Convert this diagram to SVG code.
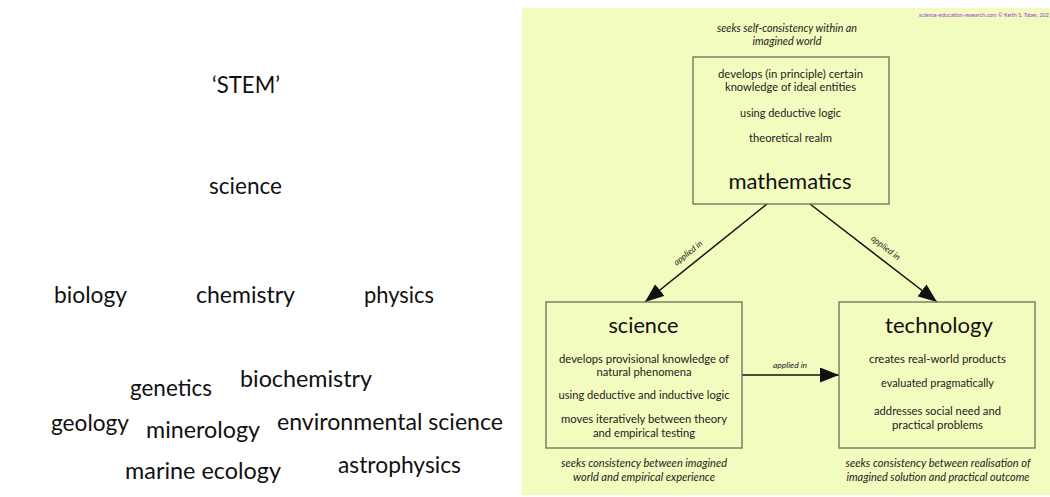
<svg xmlns="http://www.w3.org/2000/svg" width="1050" height="497" viewBox="0 0 1050 497">
<defs>
<style>
.w{font-family:Lato,"Open Sans","Liberation Sans",sans-serif;font-size:23px;fill:#111}
.t{font-family:Lato,"Open Sans","Liberation Sans",sans-serif;font-size:10.5px;fill:#222;text-anchor:middle}
.h{font-family:Lato,"Open Sans","Liberation Sans",sans-serif;font-size:22px;fill:#111;text-anchor:middle}
.i{font-family:Lato,"Open Sans","Liberation Sans",sans-serif;font-size:10.5px;font-style:italic;fill:#222;text-anchor:middle}
.a{font-family:Lato,"Open Sans","Liberation Sans",sans-serif;font-size:8.5px;font-style:italic;fill:#222;text-anchor:middle}
.box{fill:none;stroke:#6e6e5c;stroke-width:1.3}
.con{stroke:#111;stroke-width:1.5;fill:none}
</style>
<marker id="ah" markerUnits="userSpaceOnUse" markerWidth="20" markerHeight="16" refX="19" refY="7.5" orient="auto">
<path d="M0,0 L19,7.5 L0,15 Z" fill="#111"/>
</marker>
</defs>
<rect width="1050" height="497" fill="#ffffff"/>
<g id="stem-list">
<text class="w" x="212" y="93" textLength="68" lengthAdjust="spacingAndGlyphs">‘STEM’</text>
<text class="w" x="209" y="194" textLength="73" lengthAdjust="spacingAndGlyphs">science</text>
<text class="w" x="54" y="303" textLength="73" lengthAdjust="spacingAndGlyphs">biology</text>
<text class="w" x="196" y="303" textLength="99" lengthAdjust="spacingAndGlyphs">chemistry</text>
<text class="w" x="364" y="303" textLength="70" lengthAdjust="spacingAndGlyphs">physics</text>
<text class="w" x="130" y="396" textLength="82" lengthAdjust="spacingAndGlyphs">genetics</text>
<text class="w" x="240" y="387" textLength="132" lengthAdjust="spacingAndGlyphs">biochemistry</text>
<text class="w" x="51" y="431" textLength="78" lengthAdjust="spacingAndGlyphs">geology</text>
<text class="w" x="146" y="438" textLength="114" lengthAdjust="spacingAndGlyphs">minerology</text>
<text class="w" x="277" y="430" textLength="226" lengthAdjust="spacingAndGlyphs">environmental science</text>
<text class="w" x="125" y="479" textLength="156" lengthAdjust="spacingAndGlyphs">marine ecology</text>
<text class="w" x="338" y="473" textLength="123" lengthAdjust="spacingAndGlyphs">astrophysics</text>
</g>
<rect x="522" y="8" width="528" height="487" fill="#f2fcbf"/>
<text x="1049" y="17" font-family="Lato,'Liberation Sans',sans-serif" font-size="5.5" fill="#9b3bd6" text-anchor="end">science-education-research.com © Keith S. Taber, 202</text>
<g id="connectors">
<line class="con" x1="767" y1="204" x2="645" y2="302" marker-end="url(#ah)"/>
<line class="con" x1="810" y1="204" x2="937" y2="302" marker-end="url(#ah)"/>
<line class="con" x1="742" y1="375" x2="839" y2="375" marker-end="url(#ah)"/>
<text class="a" transform="translate(690,255) rotate(-38.5)">applied in</text>
<text class="a" transform="translate(884,250) rotate(37.4)">applied in</text>
<text class="a" x="790" y="368">applied in</text>
</g>
<g id="node-mathematics">
<text class="i" x="787" y="32" textLength="140" lengthAdjust="spacingAndGlyphs">seeks self-consistency within an</text>
<text class="i" x="787" y="45" textLength="69" lengthAdjust="spacingAndGlyphs">imagined world</text>
<rect class="box" x="693" y="57" width="196" height="147"/>
<text class="t" x="790.5" y="78" textLength="145" lengthAdjust="spacingAndGlyphs">develops (in principle) certain</text>
<text class="t" x="790.5" y="91" textLength="131" lengthAdjust="spacingAndGlyphs">knowledge of ideal entities</text>
<text class="t" x="790.5" y="117" textLength="101" lengthAdjust="spacingAndGlyphs">using deductive logic</text>
<text class="t" x="790.5" y="142" textLength="83" lengthAdjust="spacingAndGlyphs">theoretical realm</text>
<text class="h" x="790" y="189" textLength="123" lengthAdjust="spacingAndGlyphs">mathematics</text>
</g>
<g id="node-science">
<rect class="box" x="546" y="302" width="196" height="146"/>
<text class="h" x="643.5" y="333" textLength="70" lengthAdjust="spacingAndGlyphs">science</text>
<text class="t" x="644" y="363" textLength="170" lengthAdjust="spacingAndGlyphs">develops provisional knowledge of</text>
<text class="t" x="644" y="376" textLength="95" lengthAdjust="spacingAndGlyphs">natural phenomena</text>
<text class="t" x="644" y="399" textLength="171" lengthAdjust="spacingAndGlyphs">using deductive and inductive logic</text>
<text class="t" x="644" y="423" textLength="166" lengthAdjust="spacingAndGlyphs">moves iteratively between theory</text>
<text class="t" x="644" y="437" textLength="102" lengthAdjust="spacingAndGlyphs">and empirical testing</text>
<text class="i" x="644" y="467" textLength="166" lengthAdjust="spacingAndGlyphs">seeks consistency between imagined</text>
<text class="i" x="644" y="481" textLength="142" lengthAdjust="spacingAndGlyphs">world and empirical experience</text>
</g>
<g id="node-technology">
<rect class="box" x="839" y="302" width="196" height="146"/>
<text class="h" x="939" y="333" textLength="108" lengthAdjust="spacingAndGlyphs">technology</text>
<text class="t" x="937.5" y="363" textLength="137" lengthAdjust="spacingAndGlyphs">creates real-world products</text>
<text class="t" x="937.5" y="387" textLength="113" lengthAdjust="spacingAndGlyphs">evaluated pragmatically</text>
<text class="t" x="937.5" y="415" textLength="127" lengthAdjust="spacingAndGlyphs">addresses social need and</text>
<text class="t" x="937.5" y="429" textLength="91" lengthAdjust="spacingAndGlyphs">practical problems</text>
<text class="i" x="938" y="467" textLength="185" lengthAdjust="spacingAndGlyphs">seeks consistency between realisation of</text>
<text class="i" x="938" y="481" textLength="183" lengthAdjust="spacingAndGlyphs">imagined solution and practical outcome</text>
</g>
</svg>
